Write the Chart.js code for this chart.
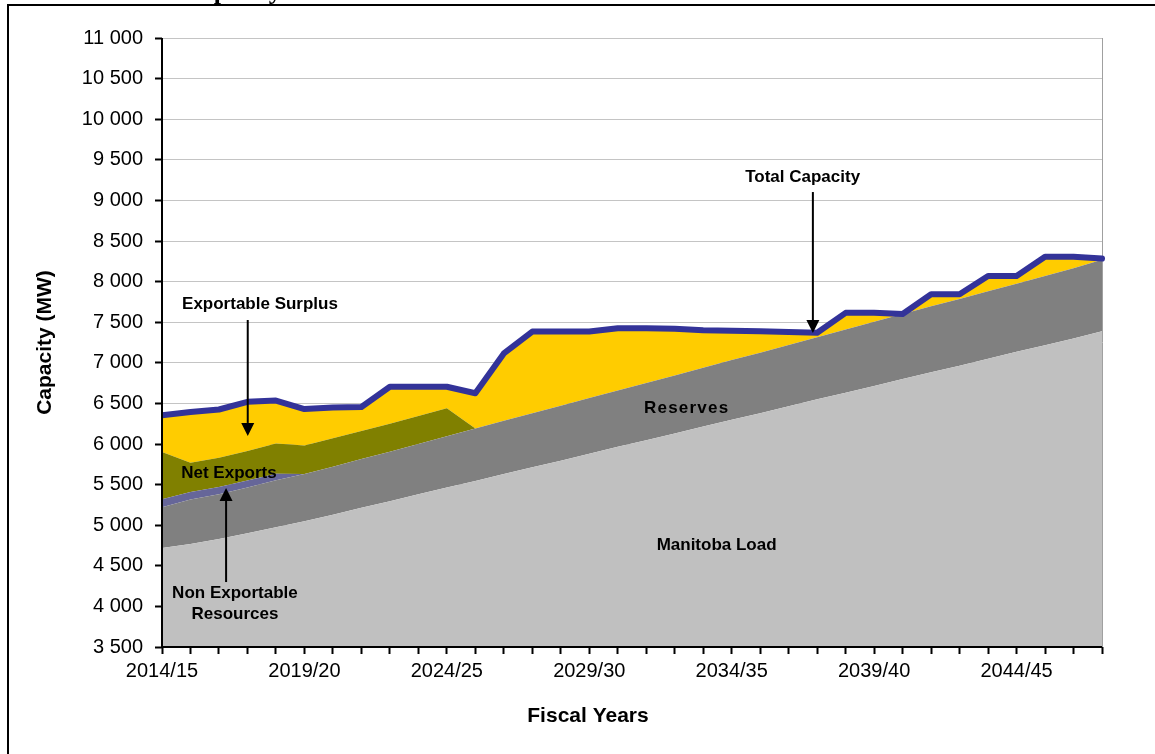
<!DOCTYPE html>
<html>
<head>
<meta charset="utf-8">
<script src="https://cdn.jsdelivr.net/npm/chart.js@4.4.0/dist/chart.umd.min.js"></script>
<style>
  html, body { margin: 0; padding: 0; background: #fff; }
  #wrap { position: relative; width: 1155px; height: 754px; overflow: hidden; }
  #frame { position: absolute; left: 7px; top: 4px; width: 1200px; height: 800px;
           border-top: 2px solid #000; border-left: 2px solid #000; pointer-events: none; }
  #head { position: absolute; left: 182px; top: -24px; line-height: 26px;
          font: bold 26px "Liberation Serif", "Times New Roman", serif; white-space: nowrap; }
</style>
</head>
<body>
<div id="wrap">
  <canvas id="chart"></canvas>
  <div id="head">Capacity</div>
  <div id="frame"></div>
</div>
<script>
// fiscal years on the category axis
const years = ['2014/15','2015/16','2016/17','2017/18','2018/19','2019/20','2020/21','2021/22','2022/23','2023/24',
  '2024/25','2025/26','2026/27','2027/28','2028/29','2029/30','2030/31','2031/32','2032/33','2033/34',
  '2034/35','2035/36','2036/37','2037/38','2038/39','2039/40','2040/41','2041/42','2042/43','2043/44',
  '2044/45','2045/46','2046/47','2047/48'];

// stacked components, MW
const manitobaLoad = [4720,4770,4830,4900,4975,5050,5130,5215,5295,5380,5465,5545,5630,5715,5795,5880,5965,
  6045,6130,6215,6300,6380,6465,6550,6630,6715,6800,6885,6965,7050,7135,7215,7300,7390];
const reserves = [500,545,550,565,580,580,590,600,610,620,630,645,655,665,675,685,695,705,715,725,735,745,
  755,765,780,790,800,810,820,830,840,855,865,880];
const nonExportable = [100,95,90,85,80,0,0,0,0,0,0,0,0,0,0,0,0,0,0,0,0,0,0,0,0,0,0,0,0,0,0,0,0,0];
const netExports = [580,360,360,365,370,350,350,345,345,345,345,0,0,0,0,0,0,0,0,0,0,0,0,0,0,0,0,0,0,0,0,0,0,0];
const exportableSurplus = [465,625,595,605,530,450,380,295,455,360,265,435,830,1005,915,820,765,675,575,460,
  360,265,160,55,205,110,0,150,60,190,95,235,140,15];
const totalCapacity = [6355,6395,6425,6520,6535,6430,6450,6455,6705,6705,6705,6625,7115,7385,7385,7385,7425,
  7425,7420,7400,7395,7390,7380,7370,7615,7615,7600,7845,7845,8070,8070,8305,8305,8285];

// labels placed on the plot, in data units (category index, MW)
const notes = [
  { text: 'Total Capacity', at: [22.49, 9288] },
  { text: 'Exportable Surplus', at: [3.44, 7724] },
  { text: 'Net Exports', at: [2.35, 5643] },
  { text: 'Reserves', at: [18.42, 6443], spacing: '1.2px' },
  { text: 'Manitoba Load', at: [19.47, 4756] },
  { text: 'Non Exportable', at: [2.56, 4165] },
  { text: 'Resources', at: [2.56, 3906] }
];
const arrows = [
  { from: [22.85, 9103], to: [22.85, 7367] },
  { from: [3.01, 7527], to: [3.01, 6099] },
  { from: [2.25, 4300], to: [2.25, 5458] }
];

const FONT = '"Liberation Sans", Arial, sans-serif';
Chart.defaults.font.family = FONT;
Chart.defaults.color = '#000';

const fmt = v => String(v).replace(/\B(?=(\d{3})+(?!\d))/g, ' ');

function area(label, data, color, fill) {
  return { label, data, backgroundColor: color, borderColor: 'transparent', borderWidth: 0,
           pointRadius: 0, fill, stack: 'parts', order: 1 };
}

const overlay = {
  id: 'overlay',
  beforeDatasetsDraw(chart) {
    const { ctx, chartArea: a } = chart;
    ctx.save();
    ctx.strokeStyle = '#a0a0a0';
    ctx.lineWidth = 1;
    ctx.beginPath();
    ctx.moveTo(a.right + 0.5, a.top);
    ctx.lineTo(a.right + 0.5, a.bottom);
    ctx.stroke();
    ctx.restore();
  },
  afterDatasetsDraw(chart) {
    const { ctx, chartArea: a, scales: { x, y } } = chart;
    ctx.save();
    // axis lines
    ctx.strokeStyle = '#000';
    ctx.lineWidth = 2;
    ctx.beginPath();
    ctx.moveTo(a.left, a.top);
    ctx.lineTo(a.left, a.bottom);
    ctx.lineTo(a.right, a.bottom);
    ctx.stroke();

    // arrows
    ctx.fillStyle = '#000';
    ctx.lineWidth = 2;
    arrows.forEach(ar => {
      const x0 = x.getPixelForValue(ar.from[0]), y0 = y.getPixelForValue(ar.from[1]);
      const x1 = x.getPixelForValue(ar.to[0]), y1 = y.getPixelForValue(ar.to[1]);
      const dir = Math.sign(y1 - y0), head = 13, half = 6.5;
      ctx.beginPath();
      ctx.moveTo(x0, y0);
      ctx.lineTo(x1, y1 - dir * head);
      ctx.stroke();
      ctx.beginPath();
      ctx.moveTo(x1, y1);
      ctx.lineTo(x1 - half, y1 - dir * head);
      ctx.lineTo(x1 + half, y1 - dir * head);
      ctx.closePath();
      ctx.fill();
    });

    // text labels
    ctx.font = 'bold 17px ' + FONT;
    ctx.textAlign = 'center';
    ctx.textBaseline = 'middle';
    notes.forEach(n => {
      ctx.letterSpacing = n.spacing || '0px';
      ctx.fillText(n.text, x.getPixelForValue(n.at[0]), y.getPixelForValue(n.at[1]));
    });
    ctx.restore();
  },
  afterDraw(chart) {
    const { ctx, chartArea: a } = chart;
    ctx.save();
    ctx.fillStyle = '#000';
    ctx.font = 'bold 21px ' + FONT;
    ctx.textAlign = 'center';
    ctx.textBaseline = 'middle';
    ctx.fillText('Fiscal Years', 588, 716);
    ctx.translate(45, (a.top + a.bottom) / 2);
    ctx.rotate(-Math.PI / 2);
    ctx.fillText('Capacity (MW)', 0, 0);
    ctx.restore();
  }
};

new Chart(document.getElementById('chart'), {
  type: 'line',
  data: {
    labels: years,
    datasets: [
      area('Manitoba Load', manitobaLoad, '#c0c0c0', 'start'),
      area('Reserves', reserves, '#808080', '-1'),
      area('Non Exportable Resources', nonExportable, '#666699', '-1'),
      area('Net Exports', netExports, '#808000', '-1'),
      area('Exportable Surplus', exportableSurplus, '#ffcc00', '-1'),
      { label: 'Total Capacity', data: totalCapacity, borderColor: '#333399', borderWidth: 6,
        borderCapStyle: 'round', borderJoinStyle: 'round', pointRadius: 0, fill: false,
        stack: 'total', order: 0, tension: 0, clip: { left: 0, top: 10, right: 10, bottom: 0 } }
    ]
  },
  options: {
    responsive: true,
    maintainAspectRatio: false,
    animation: false,
    events: [],
    layout: { padding: { top: 38, right: 53, bottom: 0, left: 0 } },
    plugins: { legend: { display: false }, tooltip: { enabled: false }, title: { display: false } },
    scales: {
      x: {
        grid: { drawOnChartArea: false, drawTicks: true, tickLength: 7, tickColor: '#000', tickWidth: 2 },
        border: { display: false },
        ticks: { autoSkip: false, maxRotation: 0, minRotation: 0, padding: 5, font: { size: 20 },
                 callback: (v, i) => (i % 5 === 0 ? years[i] : '') },
        afterFit: s => { s.height = 107; }
      },
      y: {
        stacked: true,
        min: 3500,
        max: 11000,
        grid: { color: '#c4c4c4', lineWidth: 1, tickColor: '#000', tickLength: 7, tickWidth: 2 },
        border: { display: false },
        ticks: { stepSize: 500, padding: 12, font: { size: 20 }, callback: v => fmt(v) },
        afterFit: s => { s.width = 162; }
      }
    }
  },
  plugins: [overlay]
});
</script>
</body>
</html>
